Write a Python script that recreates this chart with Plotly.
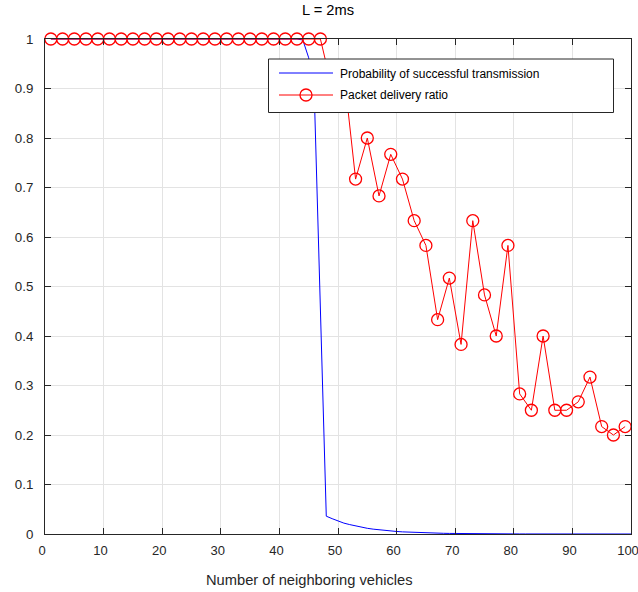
import plotly.graph_objects as go

# ---- data ----
blue_x = list(range(1, 101))
blue_y = [
    1.0, 1.0, 1.0, 1.0, 1.0, 1.0, 1.0, 1.0, 1.0, 1.0,
    1.0, 1.0, 1.0, 1.0, 1.0, 1.0, 1.0, 1.0, 1.0, 1.0,
    1.0, 1.0, 1.0, 1.0, 1.0, 1.0, 1.0, 1.0, 1.0, 1.0,
    1.0, 1.0, 1.0, 1.0, 1.0, 1.0, 1.0, 1.0, 1.0, 1.0,
    1.0, 1.0, 1.0, 0.998, 0.962, 0.87, 0.43, 0.036, 0.031, 0.026,
    0.022, 0.019, 0.016, 0.0135, 0.0115, 0.0098, 0.0083, 0.0071, 0.006, 0.0051,
    0.0043, 0.0037, 0.0031, 0.0027, 0.0023, 0.0019, 0.0016, 0.0014, 0.0012, 0.001,
    0.0009, 0.0007, 0.0006, 0.0005, 0.0004, 0.0004, 0.0003, 0.0003, 0.0002, 0.0002,
    0.0001, 0.0001, 0.0001, 0.0001, 0.0001, 0.0, 0.0, 0.0, 0.0, 0.0,
    0.0, 0.0, 0.0, 0.0, 0.0, 0.0, 0.0, 0.0, 0.0, 0.0,
]

red_x = list(range(1, 100, 2))
red_y = [
    1.0, 1.0, 1.0, 1.0, 1.0, 1.0, 1.0, 1.0, 1.0, 1.0,
    1.0, 1.0, 1.0, 1.0, 1.0, 1.0, 1.0, 1.0, 1.0, 1.0,
    1.0, 1.0, 1.0, 1.0, 0.9, 0.933, 0.717, 0.8, 0.683, 0.767,
    0.717, 0.633, 0.583, 0.433, 0.517, 0.383, 0.633, 0.483, 0.4, 0.583,
    0.283, 0.25, 0.4, 0.25, 0.25, 0.267, 0.317, 0.217, 0.2, 0.217,
]

series_names = ["Probability of successful transmission", "Packet delivery ratio"]
x_ticks = [0, 10, 20, 30, 40, 50, 60, 70, 80, 90, 100]
y_ticks = [0, 0.1, 0.2, 0.3, 0.4, 0.5, 0.6, 0.7, 0.8, 0.9, 1]
title_text = "L = 2ms"
x_label = "Number of neighboring vehicles"

FONT = "Liberation Sans, Arial, Helvetica, sans-serif"
AX = "#262626"
BLUE = "rgb(0,0,255)"
RED = "rgb(255,0,0)"

fig = go.Figure()
fig.add_trace(go.Scatter(
    x=blue_x, y=blue_y, mode="lines", name=series_names[0],
    line=dict(color=BLUE, width=1), showlegend=False,
))
fig.add_trace(go.Scatter(
    x=red_x, y=red_y, mode="lines+markers", name=series_names[1],
    line=dict(color=RED, width=1),
    marker=dict(symbol="circle-open", size=12, color=RED, line=dict(width=1.3)),
    cliponaxis=False, showlegend=False,
))

axis_common = dict(
    showline=True, linecolor=AX, linewidth=1, mirror="ticks",
    ticks="inside", ticklen=6, tickcolor=AX, tickwidth=1,
    showgrid=True, gridcolor="#e3e3e3", gridwidth=1,
    zeroline=False, ticklabeloverflow="allow", automargin=False,
)

fig.update_xaxes(range=[0, 100], tickvals=x_ticks, ticklabelstandoff=4, ticklabelshift=-3,
                 tickfont=dict(family=FONT, size=13, color=AX), **axis_common)
fig.update_yaxes(range=[0, 1], tickvals=y_ticks, ticklabelstandoff=8,
                 tickfont=dict(family=FONT, size=13.3, color=AX), **axis_common)

# ---- custom legend (MATLAB style) ----
def px2x(px):
    return (px - 45.0) / 586.0

def py2y(py):
    return (534.0 - py) / 495.0

shapes = [
    dict(type="rect", xref="paper", yref="paper",
         x0=px2x(268.5), x1=px2x(613.5), y0=py2y(112.5), y1=py2y(59),
         fillcolor="white", line=dict(color=AX, width=1), layer="above"),
    dict(type="line", xref="paper", yref="paper",
         x0=px2x(279), x1=px2x(333), y0=py2y(73), y1=py2y(73),
         line=dict(color=BLUE, width=1), layer="above"),
    dict(type="line", xref="paper", yref="paper",
         x0=px2x(279), x1=px2x(333), y0=py2y(95), y1=py2y(95),
         line=dict(color=RED, width=1), layer="above"),
    dict(type="circle", xref="paper", yref="paper",
         xsizemode="pixel", ysizemode="pixel",
         xanchor=px2x(306), yanchor=py2y(95),
         x0=-6, x1=6, y0=-6, y1=6,
         line=dict(color=RED, width=1.3), fillcolor="rgba(0,0,0,0)", layer="above"),
]

annotations = [
    dict(text=series_names[0], xref="paper", yref="paper", x=px2x(338), y=py2y(73.5),
         xanchor="left", yanchor="middle", showarrow=False,
         font=dict(family=FONT, size=12, color="#000000")),
    dict(text=series_names[1], xref="paper", yref="paper", x=px2x(338), y=py2y(95),
         xanchor="left", yanchor="middle", showarrow=False,
         font=dict(family=FONT, size=12, color="#000000")),
    dict(text=x_label, xref="paper", yref="paper", x=px2x(309), y=py2y(580),
         xanchor="center", yanchor="middle", showarrow=False,
         font=dict(family=FONT, size=14.7, color=AX)),
]

fig.update_layout(
    width=638, height=592, autosize=False,
    margin=dict(l=45, r=7, t=39, b=58, pad=0, autoexpand=False),
    paper_bgcolor="white", plot_bgcolor="white",
    title=dict(text=title_text, x=328 / 638, xref="container", xanchor="center",
               y=1 - 10 / 592, yref="container", yanchor="middle",
               font=dict(family=FONT, size=14.7, color="#000000")),
    shapes=shapes, annotations=annotations,
    showlegend=False,
)

fig.write_html(
    "out.html",
    config={"displayModeBar": False},
    post_script="document.body.style.margin='0';document.body.style.padding='0';"
                "document.body.style.overflow='hidden';"
                "document.documentElement.style.overflow='hidden';",
)
